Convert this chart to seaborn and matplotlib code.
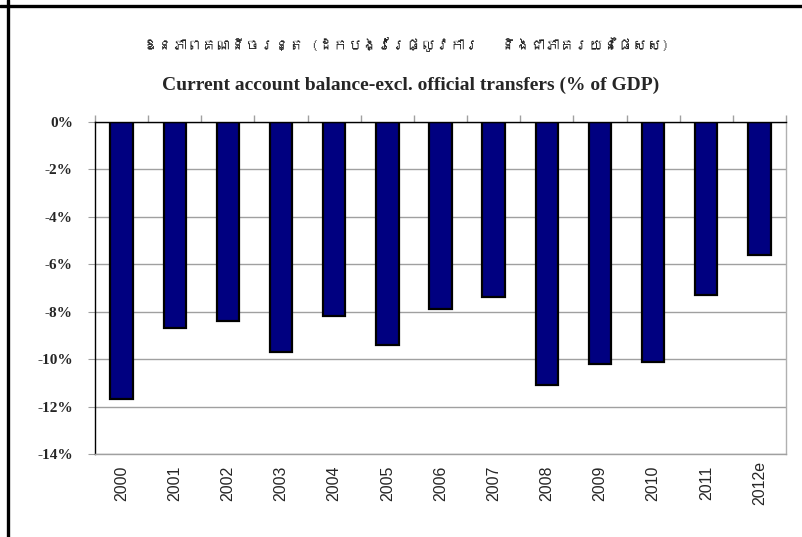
import matplotlib
matplotlib.use('Agg')
import matplotlib.pyplot as plt
from matplotlib import font_manager, ft2font
from matplotlib.lines import Line2D
from matplotlib.ticker import FixedLocator, FuncFormatter
import seaborn as sns

years = ['2000', '2001', '2002', '2003', '2004', '2005', '2006',
         '2007', '2008', '2009', '2010', '2011', '2012e']
balance = [-11.7, -8.7, -8.4, -9.7, -8.2, -9.4, -7.9,
           -7.4, -11.1, -10.2, -10.1, -7.3, -5.6]

title_km = 'ឱនភាពគណនីចរន្ត (ដកបង្វែរផ្លូវការ   និងជាភាគរយនៃផសស)'
subtitle_en = 'Current account balance-excl. official transfers (% of GDP)'


def find_font_for(ch):
    # looks for an installed font that has the glyph
    for f in font_manager.fontManager.ttflist:
        try:
            if ord(ch) in ft2font.FT2Font(f.fname).get_charmap():
                return f.name
        except Exception:
            pass
    return None


sns.set_style('white')
khmer_font = find_font_for('ឱ')
title_family = [khmer_font, 'DejaVu Sans'] if khmer_font else ['DejaVu Sans']

fig = plt.figure(figsize=(8.03, 5.37), dpi=100)
ax = fig.add_axes([95 / 803, 1 - 454 / 537, (786 - 95) / 803, (454 - 122) / 537])

sns.barplot(x=years, y=balance, color='#000080', saturation=1,
            edgecolor='black', linewidth=1.6, width=0.42, ax=ax)

ax.set_ylim(-14, 0)
ax.set_xlim(-0.5, len(years) - 0.5)
ax.set_yticks(range(-14, 1, 2))
ax.yaxis.set_major_formatter(FuncFormatter(lambda v, p: f'{int(v)}%'))
ax.yaxis.grid(True, color='#a0a0a0', linewidth=1)
ax.set_axisbelow(True)

for lab in ax.get_yticklabels():
    lab.set_fontfamily('Liberation Serif')
    lab.set_fontweight('bold')
    lab.set_fontsize(11)
for lab in ax.get_xticklabels():
    lab.set_fontfamily('Liberation Sans')
    lab.set_fontsize(11.5)
    lab.set_rotation(90)
    lab.set_verticalalignment('center')

ax.tick_params(axis='y', which='major', left=True, direction='out', length=5,
               color='#a0a0a0', pad=11)
ax.tick_params(axis='x', which='major', length=0, pad=21)
ax.xaxis.set_minor_locator(FixedLocator([i - 0.5 for i in range(len(years) + 1)]))
ax.tick_params(axis='x', which='minor', top=True, bottom=False, direction='out',
               length=5, color='#a0a0a0', width=1)

ax.spines['top'].set_color('black')
ax.spines['left'].set_color('black')
ax.spines['right'].set_color('#b0b0b0')
ax.spines['bottom'].set_color('#a0a0a0')
for s in ax.spines.values():
    s.set_linewidth(1)
ax.set_xlabel('')
ax.set_ylabel('')

fig.text(0.506, 1 - 45 / 537, title_km, ha='center', va='center',
         fontsize=10.5, fontweight='bold', family=title_family)
fig.text(0.511, 1 - 85 / 537, subtitle_en, ha='center', va='center',
         fontsize=14, fontweight='bold', family='Liberation Serif')

# outer frame lines like the source page
fig.add_artist(Line2D([0, 1], [1 - 6 / 537] * 2, color='black', linewidth=2.4,
                      transform=fig.transFigure))
fig.add_artist(Line2D([8 / 803] * 2, [0, 1], color='black', linewidth=2.4,
                      transform=fig.transFigure))

fig.savefig('out.png', dpi=100)
